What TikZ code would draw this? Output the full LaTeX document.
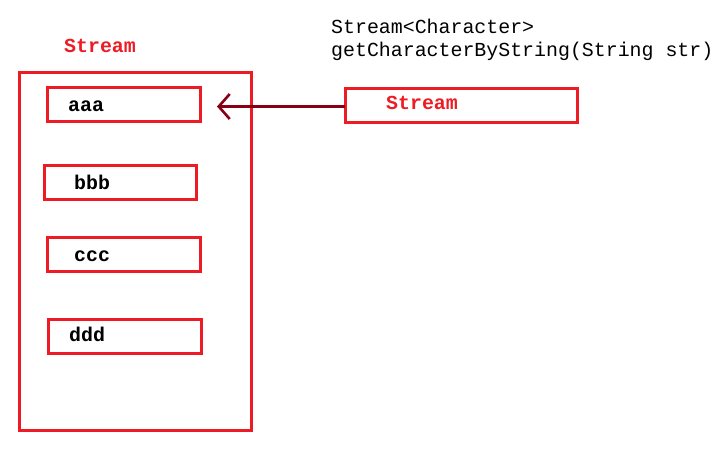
\documentclass[tikz,border=0pt]{standalone}
\usepackage{fontspec}
\setmonofont{Liberation Mono}
\usetikzlibrary{arrows.meta}
\definecolor{pred}{HTML}{ED1C24}
\definecolor{dred}{HTML}{880015}
\tikzset{
  box/.style={draw=pred, line width=3pt, inner sep=0pt, outer sep=0pt, anchor=north west},
  lbl/.style={anchor=base west, inner sep=0pt, font=\fontsize{19.9}{23}\selectfont\ttfamily\bfseries},
  rlbl/.style={lbl, text=pred},
  code/.style={anchor=base west, inner sep=0pt, font=\fontsize{19.9}{23}\selectfont\ttfamily},
  link/.style={draw=dred, line width=3pt, -{Straight Barb[length=11pt,width=25pt,line width=2.6pt]}}
}
\begin{document}
\begin{tikzpicture}[x=1pt,y=-1pt]
\useasboundingbox (0,0) rectangle (725,451);
% outer stream
\node[box, minimum width=232pt, minimum height=358pt] (outer) at (19,72) {};
\node[rlbl] (title) at (64,52) {Stream};
% elements
\node[box, minimum width=153pt, minimum height=34pt] (aaa) at (47,87) {};
\node[lbl] (ta) at (68,111) {aaa};
\node[box, minimum width=152pt, minimum height=34pt] (bbb) at (44,165) {};
\node[lbl] (tb) at (74,189) {bbb};
\node[box, minimum width=153pt, minimum height=34pt] (ccc) at (47,237) {};
\node[lbl] (tc) at (74,261) {ccc};
\node[box, minimum width=153pt, minimum height=34pt] (ddd) at (48,319) {};
\node[lbl] (td) at (69,341) {ddd};
% right stream
\node[box, minimum width=232pt, minimum height=34pt] (rs) at (345,88) {};
\node[rlbl] (tr) at (386,109) {Stream};
% method signature
\node[code] (sig1) at (331,33) {Stream<Character>};
\node[code] (sig2) at (331,56) {getCharacterByString(String str)};
% arrow
\coordinate (rsw) at ([yshift=-1.5pt]rs.west);
\draw[link, shorten >=17pt] (rsw) -- (rsw -| aaa.east);
\end{tikzpicture}
\end{document}
